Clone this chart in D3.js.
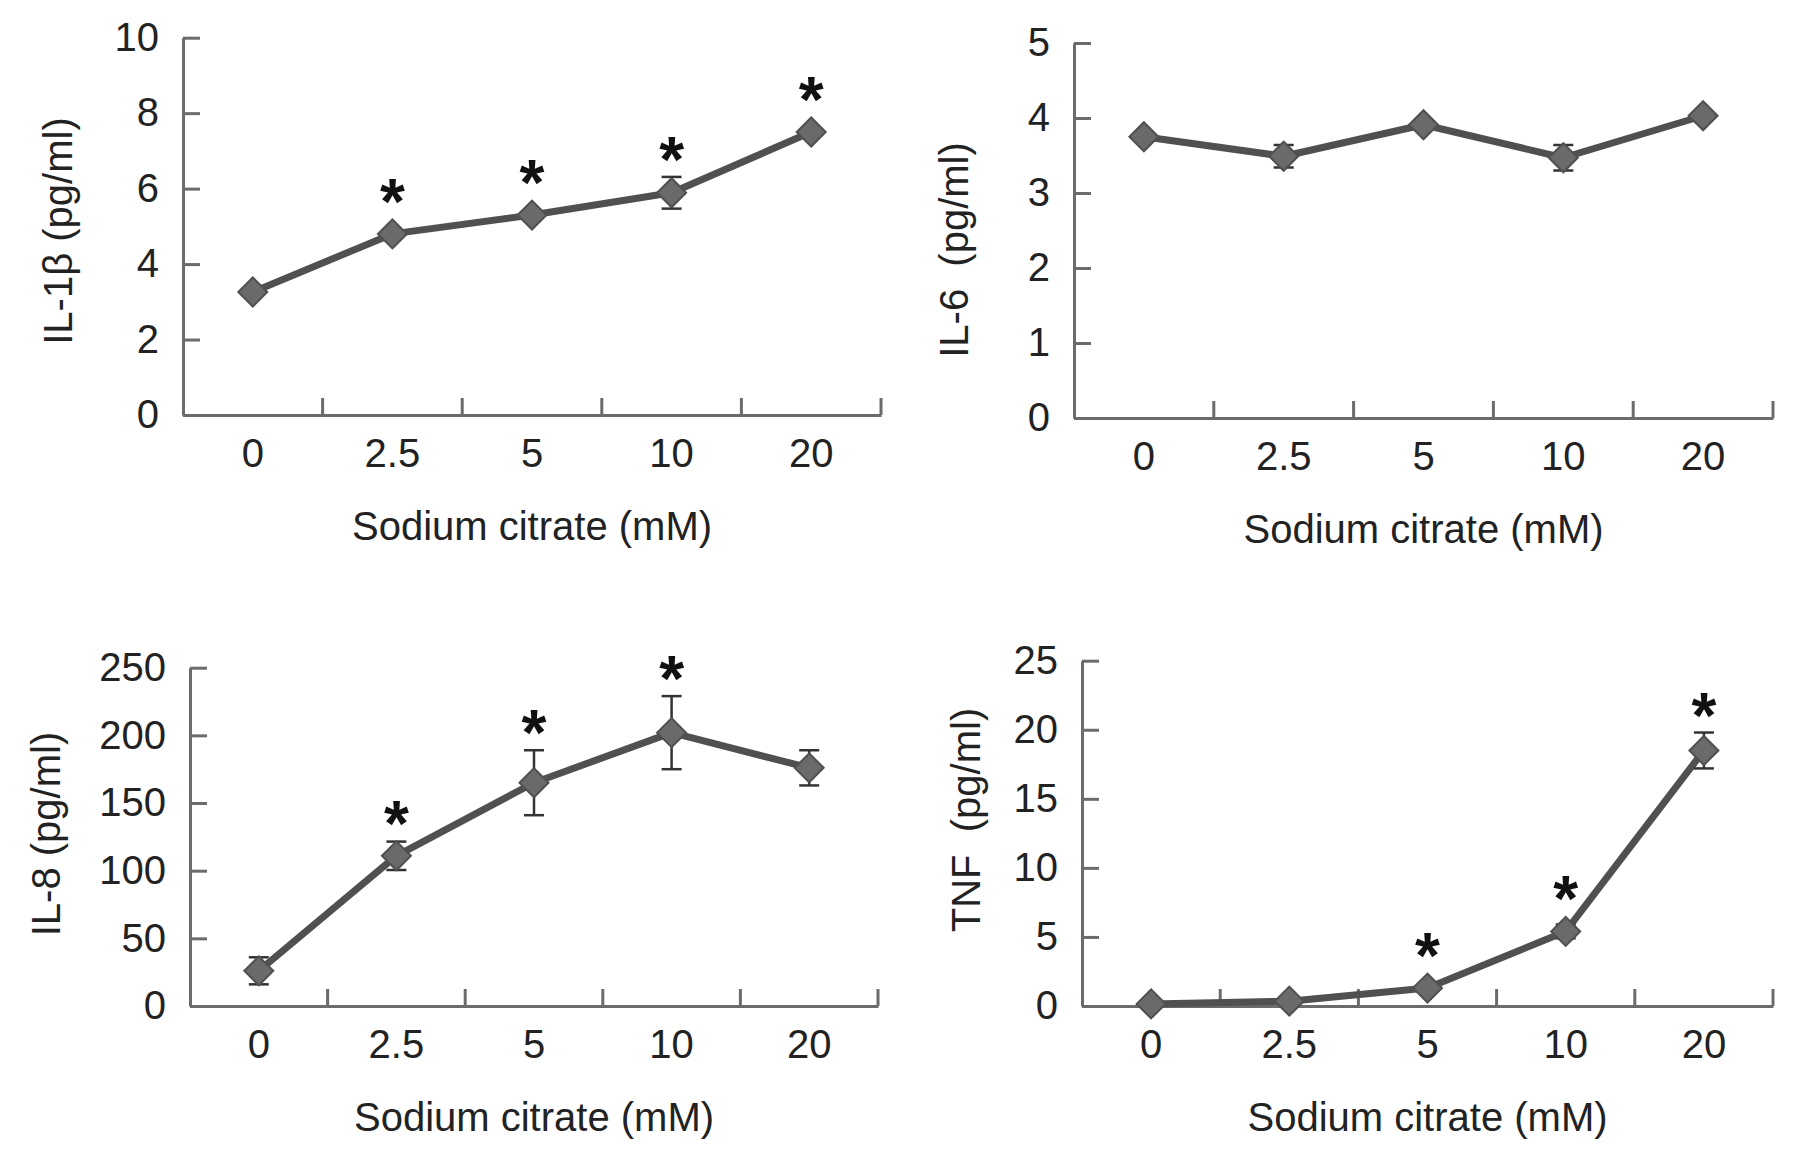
<!DOCTYPE html>
<html>
<head>
<meta charset="utf-8">
<title>Sodium citrate cytokines</title>
<style>
  body { margin: 0; background: #fff; }
  svg text { font-family: "Liberation Sans", Arial, sans-serif; fill: #222; }
  .axis path, .axis line { stroke: #6b6b6b; stroke-width: 3; }
</style>
<script src="https://d3js.org/d3.v7.min.js"></script>
</head>
<body>
<svg id="fig" width="1795" height="1156"></svg>
<script>
// doses on the x axis
var doses = ["0", "2.5", "5", "10", "20"];

// IL-1beta
var il1bMean = [3.26, 4.8, 5.3, 5.89, 7.5];
var il1bErr  = [0.08, 0.08, 0.08, 0.42, 0.08];
var il1bSig  = [false, true, true, true, true];
var il1bTicks = [0, 2, 4, 6, 8, 10];

// IL-6
var il6Mean = [3.75, 3.49, 3.91, 3.47, 4.03];
var il6Err  = [0.04, 0.15, 0.04, 0.17, 0.04];
var il6Sig  = [false, false, false, false, false];
var il6Ticks = [0, 1, 2, 3, 4, 5];

// IL-8
var il8Mean = [26, 111, 165, 202, 176];
var il8Err  = [10, 10.5, 24, 27, 13];
var il8Sig  = [false, true, true, true, false];
var il8Ticks = [0, 50, 100, 150, 200, 250];

// TNF
var tnfMean = [0.15, 0.35, 1.3, 5.4, 18.5];
var tnfErr  = [0.1, 0.1, 0.2, 0.5, 1.3];
var tnfSig  = [false, false, true, true, true];
var tnfTicks = [0, 5, 10, 15, 20, 25];

var xTitle = "Sodium citrate (mM)";

var panels = [
  { title: "IL-1\u03b2 (pg/ml)", mean: il1bMean, err: il1bErr, sig: il1bSig, ticks: il1bTicks,
    x0: 183, x1: 881, yb: 415, yt: 37.7, tx: 72, ty: 231 },
  { title: "IL-6  (pg/ml)", mean: il6Mean, err: il6Err, sig: il6Sig, ticks: il6Ticks,
    x0: 1074, x1: 1773, yb: 418, yt: 43, tx: 968, ty: 250 },
  { title: "IL-8 (pg/ml)", mean: il8Mean, err: il8Err, sig: il8Sig, ticks: il8Ticks,
    x0: 190, x1: 878, yb: 1006, yt: 667.7, tx: 60, ty: 834 },
  { title: "TNF  (pg/ml)", mean: tnfMean, err: tnfErr, sig: tnfSig, ticks: tnfTicks,
    x0: 1082, x1: 1773, yb: 1006, yt: 660.7, tx: 980, ty: 820 }
];

var svg = d3.select("#fig");

panels.forEach(function (p) {
  var g = svg.append("g");
  var x = d3.scaleBand().domain(doses).range([p.x0, p.x1]);
  var y = d3.scaleLinear().domain([0, d3.max(p.ticks)]).range([p.yb, p.yt]);
  var bw = x.bandwidth();

  // x axis: labels in the middle of each band, ticks on the band edges
  var xa = g.append("g").attr("class", "axis")
    .attr("transform", "translate(0," + p.yb + ")")
    .call(d3.axisBottom(x).tickSize(0).tickSizeOuter(0));
  xa.selectAll(".tick text")
    .attr("y", 52).attr("dy", null)
    .style("font-size", "40px");
  xa.selectAll(".edge").data(doses).enter().append("line")
    .attr("class", "edge")
    .attr("x1", function (d) { return x(d) + bw; })
    .attr("x2", function (d) { return x(d) + bw; })
    .attr("y1", 0).attr("y2", -17);

  // y axis, ticks pointing inwards
  var ya = g.append("g").attr("class", "axis")
    .attr("transform", "translate(" + p.x0 + ",0)")
    .call(d3.axisLeft(y).tickValues(p.ticks).tickFormat(d3.format("d"))
      .tickSize(-17).tickSizeOuter(0).tickPadding(24));
  ya.selectAll(".tick text").style("font-size", "40px");

  g.append("text")
    .attr("x", (p.x0 + p.x1) / 2).attr("y", p.yb + 125)
    .attr("text-anchor", "middle")
    .style("font-size", "40px")
    .text(xTitle);

  g.append("text")
    .attr("transform", "translate(" + p.tx + "," + p.ty + ") rotate(-90)")
    .attr("text-anchor", "middle")
    .style("font-size", "40px")
    .style("white-space", "pre")
    .text(p.title);

  var pts = doses.map(function (d, i) {
    return { dose: d, m: p.mean[i], e: p.err[i], s: p.sig[i] };
  });
  var cx = function (d) { return x(d.dose) + bw / 2; };

  // connecting line
  g.append("path")
    .datum(pts)
    .attr("fill", "none")
    .attr("stroke", "#505050")
    .attr("stroke-width", 7)
    .attr("stroke-linejoin", "round")
    .attr("d", d3.line().x(cx).y(function (d) { return y(d.m); }));

  // error bars
  var eb = g.selectAll(".eb").data(pts).enter().append("g").attr("class", "eb")
    .attr("stroke", "#333").attr("stroke-width", 2.5);
  eb.append("line")
    .attr("x1", cx).attr("x2", cx)
    .attr("y1", function (d) { return y(d.m + d.e); })
    .attr("y2", function (d) { return y(d.m - d.e); });
  [1, -1].forEach(function (k) {
    eb.append("line")
      .attr("x1", function (d) { return cx(d) - 10; })
      .attr("x2", function (d) { return cx(d) + 10; })
      .attr("y1", function (d) { return y(d.m + k * d.e); })
      .attr("y2", function (d) { return y(d.m + k * d.e); });
  });

  // diamond markers
  g.selectAll(".mk").data(pts).enter().append("path")
    .attr("class", "mk")
    .attr("d", d3.symbol(d3.symbolSquare, 420))
    .attr("transform", function (d) { return "translate(" + cx(d) + "," + y(d.m) + ") rotate(45)"; })
    .attr("fill", "#6a6a6a")
    .attr("stroke", "#505050")
    .attr("stroke-width", 2);

  // significance stars
  g.selectAll(".star").data(pts.filter(function (d) { return d.s; })).enter().append("text")
    .attr("class", "star")
    .attr("x", cx)
    .attr("y", function (d) {
      var top = Math.min(y(d.m + d.e), y(d.m) - 15);
      return top - 30 + 35;
    })
    .attr("text-anchor", "middle")
    .style("font-size", "64px")
    .style("font-weight", "bold")
    .style("fill", "#111")
    .text("*");
});
</script>
</body>
</html>
